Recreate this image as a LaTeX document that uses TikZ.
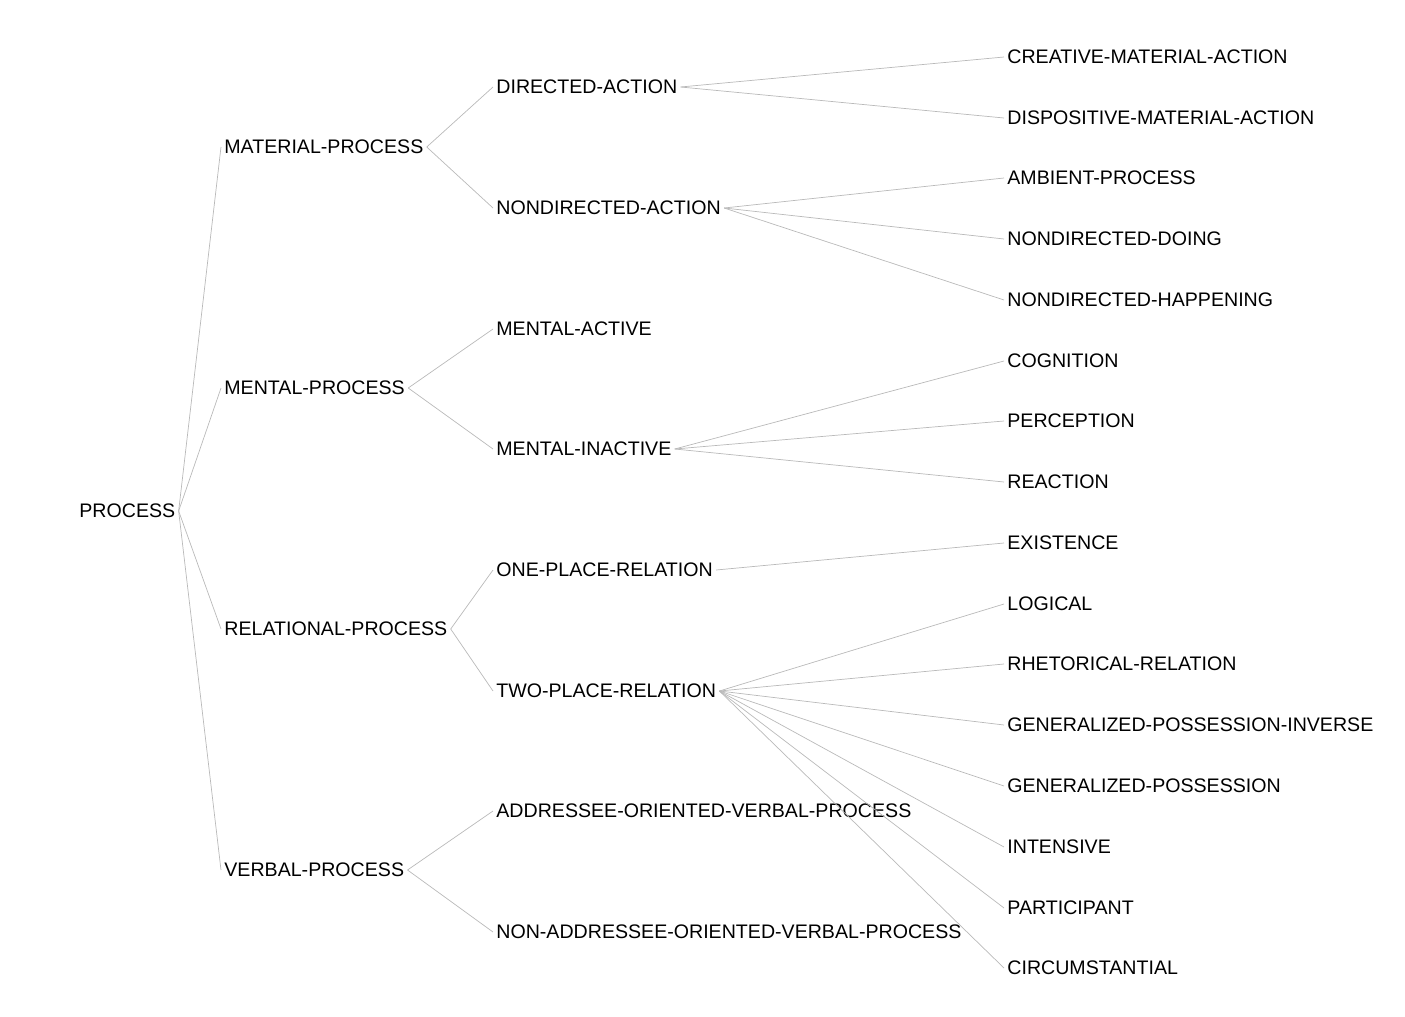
\documentclass[tikz,border=0pt]{standalone}
\usepackage{fontspec}
\setmainfont{Liberation Sans}
\begin{document}
\begin{tikzpicture}[x=0.5pt,y=-0.5pt,
  sys/.style={anchor=west,inner sep=1.5pt,font=\fontsize{9.8}{11}\selectfont},
  link/.style={draw,gray!55,line width=0.35pt}]
\useasboundingbox (0,0) rectangle (1405,1017);
\node[sys] (p) at (76,511) {PROCESS};
\node[sys] (mat) at (221,147) {MATERIAL-PROCESS};
\node[sys] (men) at (221,388) {MENTAL-PROCESS};
\node[sys] (rel) at (221,629) {RELATIONAL-PROCESS};
\node[sys] (ver) at (221,870) {VERBAL-PROCESS};
\node[sys] (dir) at (493,87) {DIRECTED-ACTION};
\node[sys] (ndir) at (493,208) {NONDIRECTED-ACTION};
\node[sys] (mact) at (493,329) {MENTAL-ACTIVE};
\node[sys] (minact) at (493,449) {MENTAL-INACTIVE};
\node[sys] (one) at (493,570) {ONE-PLACE-RELATION};
\node[sys] (two) at (493,691) {TWO-PLACE-RELATION};
\node[sys] (addr) at (493,811) {ADDRESSEE-ORIENTED-VERBAL-PROCESS};
\node[sys] (naddr) at (493,932) {NON-ADDRESSEE-ORIENTED-VERBAL-PROCESS};
\node[sys] (cre) at (1004,57) {CREATIVE-MATERIAL-ACTION};
\node[sys] (dis) at (1004,118) {DISPOSITIVE-MATERIAL-ACTION};
\node[sys] (amb) at (1004,178) {AMBIENT-PROCESS};
\node[sys] (ndo) at (1004,239) {NONDIRECTED-DOING};
\node[sys] (nhap) at (1004,300) {NONDIRECTED-HAPPENING};
\node[sys] (cog) at (1004,361) {COGNITION};
\node[sys] (perc) at (1004,421) {PERCEPTION};
\node[sys] (reac) at (1004,482) {REACTION};
\node[sys] (exi) at (1004,543) {EXISTENCE};
\node[sys] (log) at (1004,604) {LOGICAL};
\node[sys] (rhet) at (1004,664) {RHETORICAL-RELATION};
\node[sys] (gpi) at (1004,725) {GENERALIZED-POSSESSION-INVERSE};
\node[sys] (gp) at (1004,786) {GENERALIZED-POSSESSION};
\node[sys] (int) at (1004,847) {INTENSIVE};
\node[sys] (part) at (1004,908) {PARTICIPANT};
\node[sys] (circ) at (1004,968) {CIRCUMSTANTIAL};
% process
\path[link] (p.east) -- (mat.west);
\path[link] (p.east) -- (men.west);
\path[link] (p.east) -- (rel.west);
\path[link] (p.east) -- (ver.west);
% second level
\path[link] (mat.east) -- (dir.west);
\path[link] (mat.east) -- (ndir.west);
\path[link] (men.east) -- (mact.west);
\path[link] (men.east) -- (minact.west);
\path[link] (rel.east) -- (one.west);
\path[link] (rel.east) -- (two.west);
\path[link] (ver.east) -- (addr.west);
\path[link] (ver.east) -- (naddr.west);
% third level
\path[link] (dir.east) -- (cre.west);
\path[link] (dir.east) -- (dis.west);
\path[link] (ndir.east) -- (amb.west);
\path[link] (ndir.east) -- (ndo.west);
\path[link] (ndir.east) -- (nhap.west);
\path[link] (minact.east) -- (cog.west);
\path[link] (minact.east) -- (perc.west);
\path[link] (minact.east) -- (reac.west);
\path[link] (one.east) -- (exi.west);
\path[link] (two.east) -- (log.west);
\path[link] (two.east) -- (rhet.west);
\path[link] (two.east) -- (gpi.west);
\path[link] (two.east) -- (gp.west);
\path[link] (two.east) -- (int.west);
\path[link] (two.east) -- (part.west);
\path[link] (two.east) -- (circ.west);
\end{tikzpicture}
\end{document}
